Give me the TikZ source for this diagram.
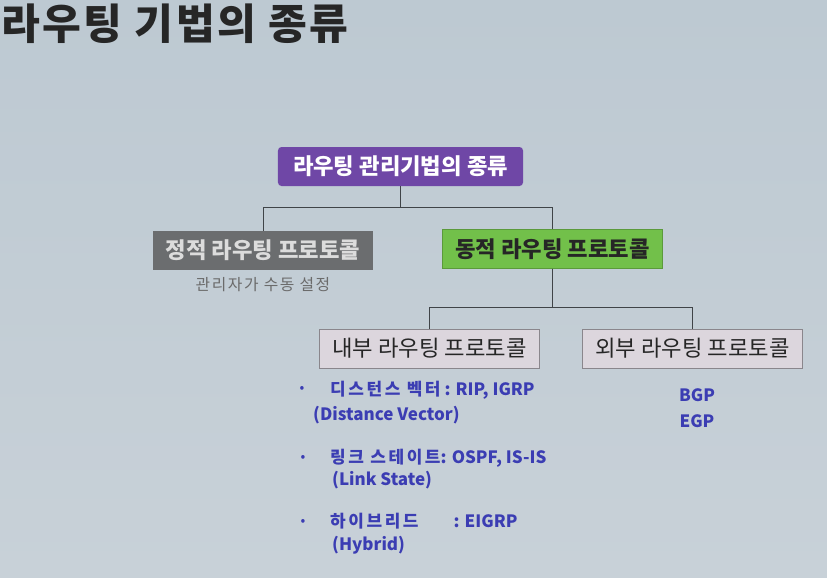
\documentclass[tikz,border=0pt]{standalone}
\usepackage{fontspec}
\setmainfont{Noto Sans CJK KR}
\usepackage{xcolor}
\usepackage{tikz}
\usetikzlibrary{positioning,calc}
\definecolor{slidetop}{HTML}{BDC9D2}
\definecolor{slidebot}{HTML}{C8D1D8}
\definecolor{rootfill}{HTML}{6F47A6}
\definecolor{statfill}{HTML}{6B6D6F}
\definecolor{stattext}{HTML}{DCDCDC}
\definecolor{dynfill}{HTML}{72C04A}
\definecolor{subfill}{HTML}{DCD6DD}
\definecolor{subframe}{HTML}{8A868C}
\definecolor{itemblue}{HTML}{3B3DB3}
\definecolor{linegray}{HTML}{404448}
\newcommand{\wide}[2][15]{{\addfontfeatures{LetterSpace=#1}#2}}
\begin{document}
\begin{tikzpicture}[x=0.03cm,y=-0.03cm,
  box/.style={inner sep=0pt,minimum width=6.6cm,minimum height=1.17cm,
              font=\fontsize{19}{19}\selectfont\bfseries,align=center},
  rt/.style={box,fill=rootfill,text=white,rounded corners=3pt,minimum width=7.35cm},
  st/.style={box,fill=statfill,text=stattext},
  dy/.style={box,fill=dynfill,draw=dynfill!80!black,text=black!85},
  sb/.style={box,fill=subfill,draw=subframe,text=black!85,font=\fontsize{19}{19}\selectfont},
  ln/.style={draw=linegray,line width=0.8pt},
  it/.style={anchor=west,inner sep=0pt,text=itemblue,font=\fontsize{14.5}{14.5}\selectfont\bfseries},
  dot/.style={inner sep=0pt,text=itemblue,font=\fontsize{12}{12}\selectfont}]
\shade[top color=slidetop,bottom color=slidebot] (0,0) rectangle (827,577);
\useasboundingbox (0,0) rectangle (827,577);
% title
\node[anchor=west,inner sep=0pt,font=\fontsize{36}{36}\selectfont\bfseries,text=black!85]
      (title) at (1,24) {\wide[6]{라우팅 기법의 종류}};
% tree
\node[rt] (root) at (400.5,166.5) {라우팅 관리기법의 종류};
\node[st] (stat) at (263,250.5) {정적 라우팅 프로토콜};
\node[dy] (dyn) at (552.5,249) {동적 라우팅 프로토콜};
\node[font=\fontsize{13.5}{13.5}\selectfont,text=black!58,below=0.8mm of stat] (man) {\wide[10]{관리자가 수동 설정}};
\node[sb] (inner) at (429.5,348.5) {내부 라우팅 프로토콜};
\node[sb] (outer) at (692.5,348.5) {외부 라우팅 프로토콜};
\draw[ln] (root.south) -- ++(0,21) -| (stat.north);
\draw[ln] (root.south) -- ++(0,21) -| (dyn.north);
\draw[ln] (dyn.south) -- ++(0,39) -| (inner.north);
\draw[ln] (dyn.south) -- ++(0,39) -| (outer.north);
% interior protocols
\node[dot] (b1) at (302,389) {•};
\node[it] (dv) at (330,390) {\wide{디스턴스 벡터} : RIP, IGRP};
\node[it] (dve) at (313,415) {(Distance Vector)};
\node[dot] (b2) at (303,458) {•};
\node[it] (ls) at (330,458) {\wide{링크 스테이트}: OSPF, IS-IS};
\node[it] (lse) at (332,480) {(Link State)};
\node[dot] (b3) at (303,522) {•};
\node[it] (hy) at (330,521) {\wide{하이브리드}\hspace{1.05cm}: EIGRP};
\node[it] (hye) at (332,545) {(Hybrid)};
% exterior protocols
\node[it,anchor=center] (bgp) at (697,395) {BGP};
\node[it,anchor=center] (egp) at (697,421) {EGP};
\end{tikzpicture}
\end{document}
